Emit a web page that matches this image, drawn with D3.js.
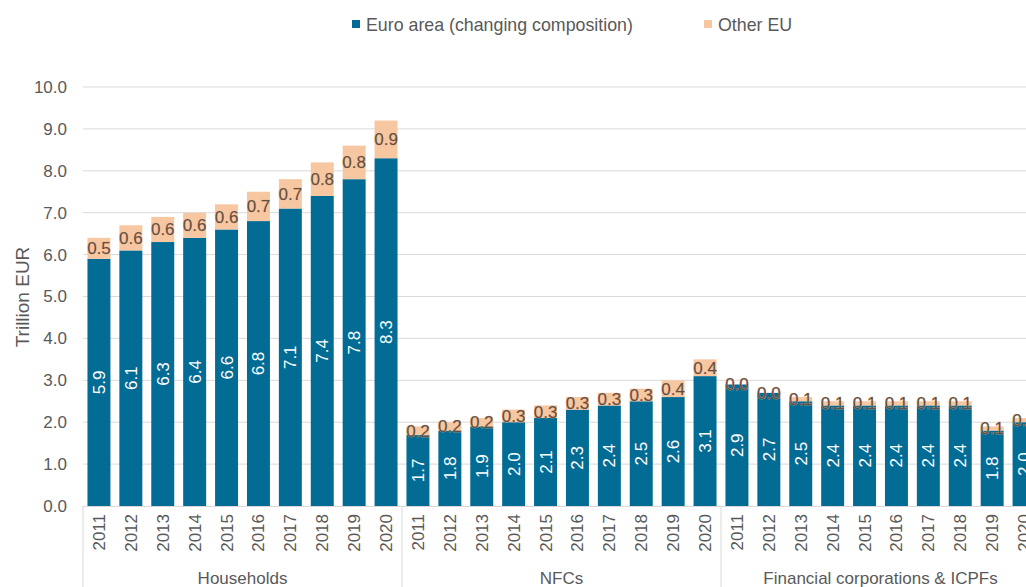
<!DOCTYPE html>
<html>
<head>
<meta charset="utf-8">
<script src="https://cdn.jsdelivr.net/npm/d3@7"></script>
<style>
  html, body { margin: 0; padding: 0; background: #ffffff; }
  svg { display: block; }
  text { font-family: "Liberation Sans", Arial, sans-serif; }
</style>
</head>
<body>
<svg id="chart" width="1026" height="587"></svg>
<script>
// ---- data ----
const groups = ["Households", "NFCs", "Financial corporations & ICPFs"];
const years = ["2011", "2012", "2013", "2014", "2015", "2016", "2017", "2018", "2019", "2020"];
const seriesNames = ["Euro area (changing composition)", "Other EU"];
const householdsEuroArea = [5.9, 6.1, 6.3, 6.4, 6.6, 6.8, 7.1, 7.4, 7.8, 8.3];
const householdsOtherEU  = [0.5, 0.6, 0.6, 0.6, 0.6, 0.7, 0.7, 0.8, 0.8, 0.9];
const nfcsEuroArea = [1.7, 1.8, 1.9, 2.0, 2.1, 2.3, 2.4, 2.5, 2.6, 3.1];
const nfcsOtherEU  = [0.2, 0.2, 0.2, 0.3, 0.3, 0.3, 0.3, 0.3, 0.4, 0.4];
const financialEuroArea = [2.9, 2.7, 2.5, 2.4, 2.4, 2.4, 2.4, 2.4, 1.8, 2.0];
const financialOtherEU  = [0.0, 0.0, 0.1, 0.1, 0.1, 0.1, 0.1, 0.1, 0.1, 0.1];
const yTicks = [0, 1, 2, 3, 4, 5, 6, 7, 8, 9, 10];
const yTitle = "Trillion EUR";

(function () {
// ---- build table ----
const euroByGroup = [householdsEuroArea, nfcsEuroArea, financialEuroArea];
const otherByGroup = [householdsOtherEU, nfcsOtherEU, financialOtherEU];
const rows = [];
groups.forEach((g, gi) => {
  years.forEach((yr, yi) => {
    rows.push({ key: g + "|" + yr, group: g, year: yr, ea: euroByGroup[gi][yi], other: otherByGroup[gi][yi] });
  });
});

// ---- layout ----
const W = 1026, H = 587;
const mLeft = 83, mRight = 1040, mTop = 87, mBottom = 506;
const FS = "17px";
const colBlue = "#036c95", colPeach = "#f7c7a2", txt = "#595959", grid = "#d9d9d9";

const svg = d3.select("#chart");
const x = d3.scaleBand().domain(rows.map(d => d.key)).range([mLeft, mRight]).paddingInner(0.28).paddingOuter(0.14);
const y = d3.scaleLinear().domain([0, 10]).range([mBottom, mTop]);
const groupScale = d3.scaleBand().domain(groups).range([mLeft, mRight]);

// gridlines
svg.append("g").selectAll("line").data(yTicks.filter(t => t > 0)).join("line")
  .attr("x1", mLeft).attr("x2", W).attr("y1", d => y(d)).attr("y2", d => y(d))
  .attr("stroke", grid).attr("stroke-width", 1);

// y tick labels
svg.append("g").selectAll("text").data(yTicks).join("text")
  .attr("x", 67).attr("y", d => y(d))
  .attr("text-anchor", "end").attr("dy", "0.35em")
  .attr("fill", txt).style("font-size", FS)
  .text(d => d3.format(".1f")(d));

// y title
svg.append("text").attr("transform", "translate(22,297) rotate(-90)")
  .attr("text-anchor", "middle").attr("dy", "0.35em")
  .attr("fill", txt).style("font-size", "19px").text(yTitle);

// bars
const bars = svg.append("g");
bars.selectAll("rect.ea").data(rows).join("rect").attr("class", "ea")
  .attr("x", d => x(d.key)).attr("width", x.bandwidth())
  .attr("y", d => y(d.ea)).attr("height", d => y(0) - y(d.ea)).attr("fill", colBlue);
bars.selectAll("rect.ot").data(rows).join("rect").attr("class", "ot")
  .attr("x", d => x(d.key)).attr("width", x.bandwidth())
  .attr("y", d => y(d.ea + d.other)).attr("height", d => y(d.ea) - y(d.ea + d.other)).attr("fill", colPeach);

// x axis line
svg.append("line").attr("x1", mLeft).attr("x2", mRight).attr("y1", mBottom + 0.5).attr("y2", mBottom + 0.5)
  .attr("stroke", grid).attr("stroke-width", 1);

// group separators
const seps = groups.map(g => groupScale(g)).concat([mRight]);
svg.append("g").selectAll("line").data(seps).join("line")
  .attr("x1", d => d).attr("x2", d => d).attr("y1", mBottom).attr("y2", H)
  .attr("stroke", grid).attr("stroke-width", 1);

// value labels - euro area (white, rotated)
svg.append("g").selectAll("text").data(rows).join("text")
  .attr("transform", d => `translate(${x(d.key) + x.bandwidth() / 2},${(y(0) + y(d.ea)) / 2}) rotate(-90)`)
  .attr("text-anchor", "middle").attr("dy", "0.35em")
  .attr("fill", "#ffffff").style("font-size", FS)
  .text(d => d3.format(".1f")(d.ea));

// value labels - other EU
svg.append("g").selectAll("text").data(rows).join("text")
  .attr("x", d => x(d.key) + x.bandwidth() / 2)
  .attr("y", d => (y(d.ea) + y(d.ea + d.other)) / 2)
  .attr("text-anchor", "middle").attr("dy", "0.35em")
  .attr("fill", "#5e5048").attr("stroke", "#f0a870").attr("stroke-width", 0.6)
  .attr("paint-order", "stroke")
  .style("font-size", FS)
  .text(d => d3.format(".1f")(d.other));

// year labels
svg.append("g").selectAll("text").data(rows).join("text")
  .attr("transform", d => `translate(${x(d.key) + x.bandwidth() / 2},514) rotate(-90)`)
  .attr("text-anchor", "end").attr("dy", "0.35em")
  .attr("fill", txt).style("font-size", FS)
  .text(d => d.year);

// group labels
svg.append("g").selectAll("text").data(groups).join("text")
  .attr("x", d => groupScale(d) + groupScale.bandwidth() / 2).attr("y", 584)
  .attr("text-anchor", "middle")
  .attr("fill", txt).style("font-size", FS)
  .text(d => d);

// legend
const legend = svg.append("g");
const legPos = [{ sq: 352, tx: 366 }, { sq: 704, tx: 718 }];
seriesNames.forEach((n, i) => {
  legend.append("rect").attr("x", legPos[i].sq).attr("y", 20).attr("width", 8).attr("height", 8)
    .attr("fill", i === 0 ? colBlue : colPeach);
  legend.append("text").attr("x", legPos[i].tx).attr("y", 24.5)
    .attr("fill", txt).style("font-size", "17.8px")
    .attr("dy", "0.35em").text(n);
});
})();
</script>
</body>
</html>
